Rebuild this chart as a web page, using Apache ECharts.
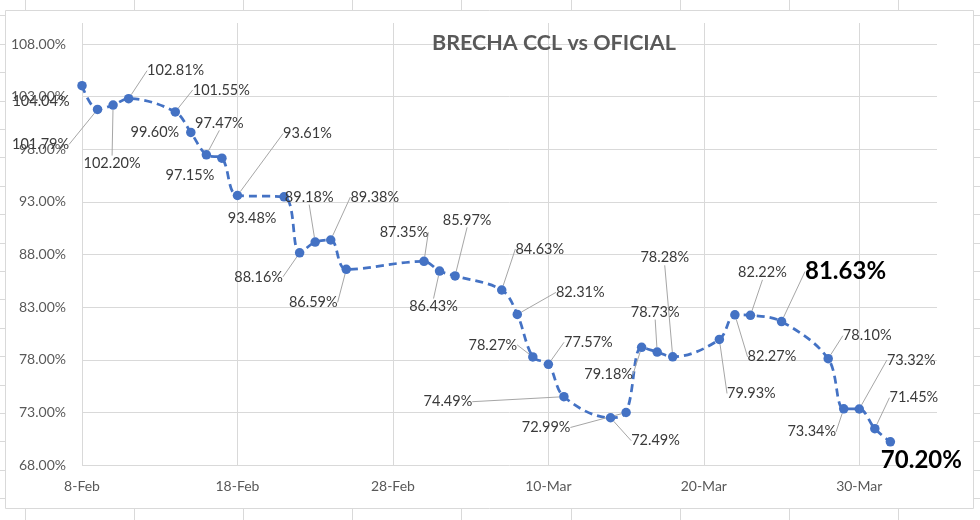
<!DOCTYPE html>
<html>
<head>
<meta charset="utf-8">
<script src="https://cdn.jsdelivr.net/npm/echarts@6/dist/echarts.min.js"></script>
<style>html,body{margin:0;padding:0;background:#fff}#c{width:980px;height:520px}</style>
</head>
<body>
<div id="c"></div>
<script>
// ---- data ----
const dates = [
  '2022-02-08','2022-02-09','2022-02-10','2022-02-11','2022-02-14','2022-02-15','2022-02-16','2022-02-17','2022-02-18',
  '2022-02-21','2022-02-22','2022-02-23','2022-02-24','2022-02-25','2022-03-02','2022-03-03','2022-03-04',
  '2022-03-07','2022-03-08','2022-03-09','2022-03-10','2022-03-11','2022-03-14','2022-03-15','2022-03-16',
  '2022-03-17','2022-03-18','2022-03-21','2022-03-22','2022-03-23','2022-03-25','2022-03-28','2022-03-29',
  '2022-03-30','2022-03-31','2022-04-01'
];
const brecha = [
  104.04,101.79,102.20,102.81,101.55,99.60,97.47,97.15,93.61,
  93.48,88.16,89.18,89.38,86.59,87.35,86.43,85.97,
  84.63,82.31,78.27,77.57,74.49,72.49,72.99,79.18,
  78.73,78.28,79.93,82.27,82.22,81.63,78.10,73.34,
  73.32,71.45,70.20
];
const xStartDate = '2022-02-08';
const xEndDate = '2022-04-04';
const xTickLabels = ['8-Feb','18-Feb','28-Feb','10-Mar','20-Mar','30-Mar'];
const yMin = 68, yMax = 110, yStep = 5;
const titleText = 'BRECHA CCL vs OFICIAL';
const highlighted = [30, 35];

// ---- label placement (style only): [dx, dy, leader side] ----
const labelPlace = [
  [-41,16,''],[-57,35,'R'],[-1,58,'T'],[47,-28,'L'],[46,-22,'L'],[-36,0,''],[13,-32,'B'],[-32,17,''],[70,-62,'L'],
  [-32,21,''],[-41,24,'R'],[-6,-45,'B'],[44,-43,'L'],[-33,33,'T'],[-20,-29,'B'],[-6,35,'T'],[12,-56,'B'],
  [38,-41,'B'],[63,-22,'L'],[-40,-12,'R'],[40,-22,'L'],[-116,5,'R'],[45,23,'L'],[-80,15,'R'],[-33,27,'T'],
  [-2,-40,'B'],[-8,-99,'B'],[32,54,'T'],[37,42,'T'],[12,-43,'B'],[64,-50,'L'],[39,-23,'L'],[-32,23,'T'],
  [52,-49,'L'],[39,-31,'L'],[31,18,'']
];

const DAY = 86400000;
const t0 = Date.parse(xStartDate + 'T00:00:00Z');
const dayOf = s => Math.round((Date.parse(s + 'T00:00:00Z') - t0) / DAY);
const xMax = dayOf(xEndDate);

const seriesData = dates.map((d, i) => {
  const item = { value: [dayOf(d), brecha[i]] };
  if (highlighted.indexOf(i) >= 0) {
    item.label = { fontSize: 24, fontWeight: 'bold', color: '#000000' };
  }
  if (!labelPlace[i][2]) item.labelLine = { show: false };
  return item;
});

const FONT = 'Lato, "Open Sans", sans-serif';

// decorative sheet gridlines around the chart object
const deco = [];
deco.push({ type: 'rect', shape: { x: 5.5, y: 10.5, width: 968, height: 498 }, style: { fill: null, stroke: '#d9d9d9', lineWidth: 1 }, silent: true });
for (let x = 25; x < 980; x += 109.1) {
  deco.push({ type: 'line', shape: { x1: Math.round(x) + 0.5, y1: 0, x2: Math.round(x) + 0.5, y2: 10 }, style: { stroke: '#d9d9d9', lineWidth: 1 }, silent: true });
  deco.push({ type: 'line', shape: { x1: Math.round(x) + 0.5, y1: 509, x2: Math.round(x) + 0.5, y2: 520 }, style: { stroke: '#d9d9d9', lineWidth: 1 }, silent: true });
}
for (let y = 15.4; y < 520; y += 28.4) {
  deco.push({ type: 'line', shape: { x1: 0, y1: Math.round(y) + 0.5, x2: 5, y2: Math.round(y) + 0.5 }, style: { stroke: '#d9d9d9', lineWidth: 1 }, silent: true });
  deco.push({ type: 'line', shape: { x1: 974, y1: Math.round(y) + 0.5, x2: 980, y2: Math.round(y) + 0.5 }, style: { stroke: '#d9d9d9', lineWidth: 1 }, silent: true });
}

const chart = echarts.init(document.getElementById('c'), null, { renderer: 'canvas' });
chart.setOption({
  backgroundColor: '#ffffff',
  animation: false,
  title: {
    text: titleText,
    left: 427, top: 27,
    textStyle: { fontFamily: FONT, fontSize: 21.5, fontWeight: 'bold', color: '#595959' }
  },
  grid: { left: 82, right: 43, top: 23, bottom: 55 },
  xAxis: {
    type: 'value',
    min: 0, max: xMax, interval: 10,
    axisLine: { show: false },
    axisTick: { show: false },
    splitLine: { show: true, showMaxLine: false, lineStyle: { color: '#d9d9d9', width: 1 } },
    axisLabel: {
      showMaxLabel: false,
      margin: 14,
      color: '#595959', fontSize: 14, fontFamily: FONT,
      formatter: v => (v % 10 === 0 ? (xTickLabels[v / 10] || '') : '')
    }
  },
  yAxis: {
    type: 'value',
    min: yMin, max: yMax, interval: yStep,
    axisLine: { show: false },
    axisTick: { show: false },
    splitLine: { show: true, showMaxLine: false, lineStyle: { color: '#d9d9d9', width: 1 } },
    axisLabel: {
      showMaxLabel: false,
      margin: 16,
      color: '#595959', fontSize: 14, fontFamily: FONT,
      formatter: v => v.toFixed(2) + '%'
    }
  },
  graphic: deco,
  series: [{
    type: 'line',
    data: seriesData,
    smooth: 0.35,
    showSymbol: true,
    showAllSymbol: true,
    symbol: 'circle',
    symbolSize: 9.5,
    clip: false,
    itemStyle: { color: '#4472C4' },
    lineStyle: { color: '#4472C4', width: 2.75, type: [8, 5] },
    label: {
      show: true,
      fontFamily: FONT, fontSize: 14.5, color: '#3a3a3a',
      formatter: p => p.value[1].toFixed(2) + '%'
    },
    labelLine: { show: true, lineStyle: { color: '#a6a6a6', width: 1 } },
    labelLayout: function (p) {
      const pl = labelPlace[p.dataIndex];
      const cx = p.rect.x + p.rect.width / 2, cy = p.rect.y + p.rect.height / 2;
      const w = p.labelRect.width, h = p.labelRect.height;
      const tx = cx + pl[0], ty = cy + pl[1];
      const L = tx - w / 2, R = tx + w / 2, T = ty - h / 2, B = ty + h / 2;
      const big = highlighted.indexOf(p.dataIndex) >= 0;
      const gap = big ? 8 : 3;
      let mid, end;
      if (pl[2] === 'L') { mid = [L - gap - 10, ty]; end = [L - gap, ty]; }
      else if (pl[2] === 'R') { mid = [R + gap + 10, ty]; end = [R + gap, ty]; }
      else if (pl[2] === 'T') { end = [tx, T + 1]; }
      else if (pl[2] === 'B') { end = [tx, B - 1]; }
      const out = { x: tx, y: ty, align: 'center', verticalAlign: 'middle' };
      if (end) {
        const tgt = mid || end;
        const ddx = tgt[0] - cx, ddy = tgt[1] - cy, len = Math.hypot(ddx, ddy) || 1;
        const start = [cx + ddx / len * 5, cy + ddy / len * 5];
        if (!mid) mid = [(start[0] + end[0]) / 2, (start[1] + end[1]) / 2];
        out.labelLinePoints = [start, mid, end];
      }
      return out;
    }
  }]
});
</script>
</body>
</html>
